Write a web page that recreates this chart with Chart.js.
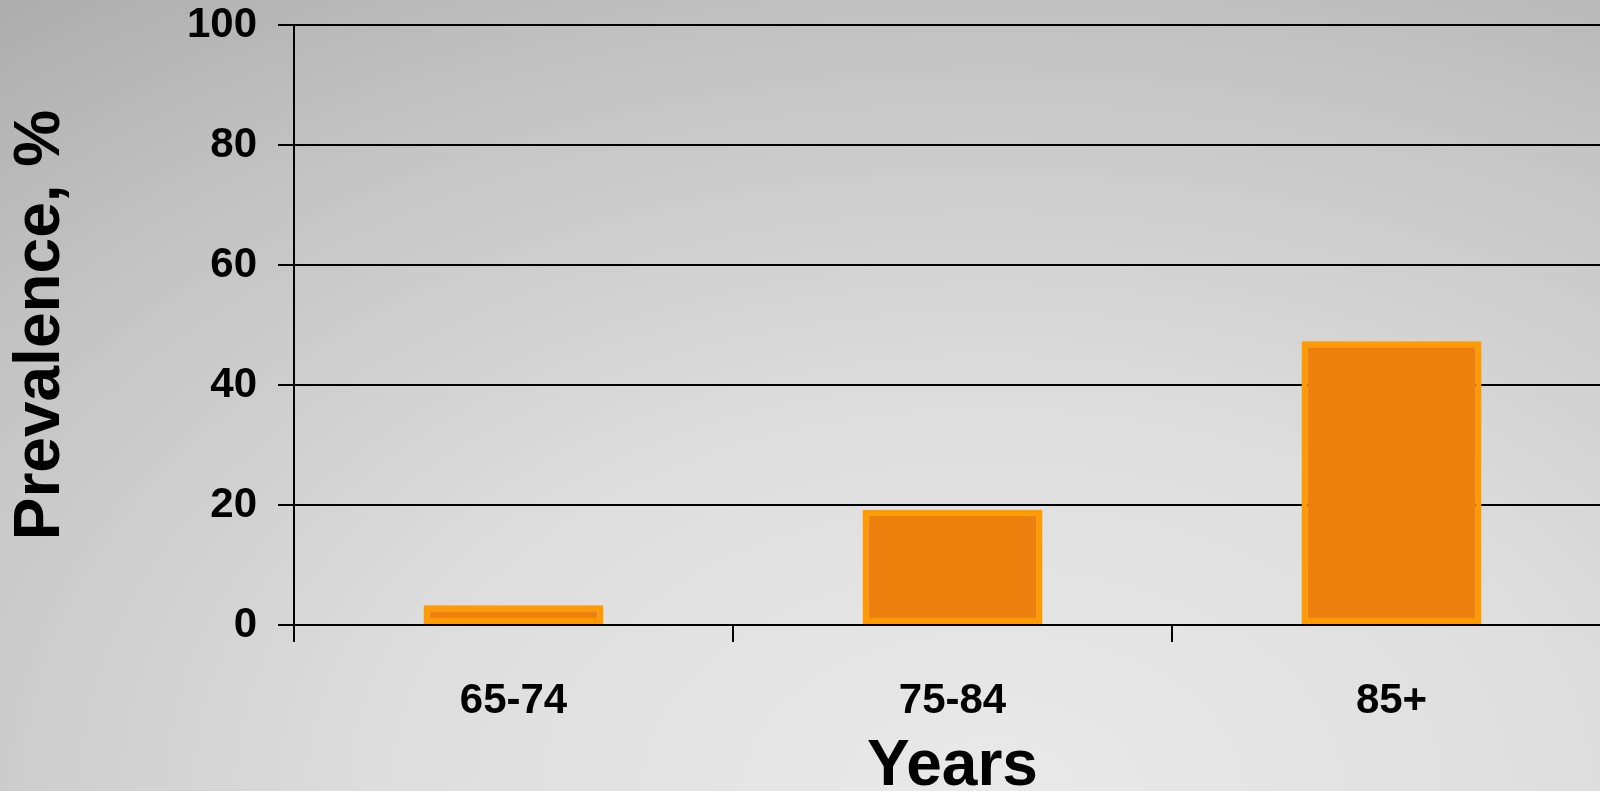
<!DOCTYPE html>
<html>
<head>
<meta charset="utf-8">
<script src="https://cdn.jsdelivr.net/npm/chart.js@4/dist/chart.umd.min.js"></script>
<style>
  html, body { margin: 0; padding: 0; width: 1600px; height: 791px; overflow: hidden; }
  body { background: radial-gradient(ellipse 105% 135% at 62% 100%, #e9e9e9 0%, #dedede 35%, #c4c4c4 70%, #a8a8a8 100%); }
  #wrap { position: absolute; left: 0; top: 0; width: 1611px; height: 806px; }
</style>
</head>
<body>
<div id="wrap"><canvas id="c" width="1611" height="806"></canvas></div>
<script>
const categories = ["65-74", "75-84", "85+"];
const prevalence = [3.3, 19.2, 47.3];
const yTicks = [0, 20, 40, 60, 80, 100];
const xTitle = "Years";
const yTitle = "Prevalence, %";

const ctx = document.getElementById('c');
new Chart(ctx, {
  type: 'bar',
  data: {
    labels: categories,
    datasets: [{
      data: prevalence,
      backgroundColor: '#EE800E',
      borderColor: '#FF9A00',
      borderWidth: 6,
      borderSkipped: false,
      barPercentage: 0.41,
      categoryPercentage: 1.0
    }]
  },
  options: {
    responsive: false,
    animation: false,
    layout: { padding: 0 },
    plugins: { legend: { display: false }, tooltip: { enabled: false } },
    scales: {
      x: {
        offset: true,
        grid: { offset: true, drawOnChartArea: false, drawTicks: true, tickLength: 17, color: '#000', lineWidth: 2 },
        border: { display: true, color: '#000', width: 2 },
        ticks: { color: '#000', font: { family: 'Liberation Sans, Arial, sans-serif', size: 42, weight: 'bold' }, padding: 34 },
        title: { display: true, text: xTitle, color: '#000', font: { family: 'Liberation Sans, Arial, sans-serif', size: 64, weight: 'bold' }, padding: 0 },
        afterFit: (s) => { s.height = 181; }
      },
      y: {
        min: 0, max: 100,
        afterBuildTicks: (s) => { s.ticks = yTicks.map(v => ({ value: v })); },
        grid: { color: '#000', lineWidth: 2, drawTicks: true, tickLength: 16 },
        border: { display: true, color: '#000', width: 2 },
        ticks: { color: '#000', font: { family: 'Liberation Sans, Arial, sans-serif', size: 42, weight: 'bold' }, padding: 21 },
        title: { display: true, text: yTitle, color: '#000', font: { family: 'Liberation Sans, Arial, sans-serif', size: 64, weight: 'bold' }, padding: 3 },
        afterFit: (s) => { s.width = 294; s.paddingTop = 25; s.paddingBottom = 25; }
      }
    }
  }
});
</script>
</body>
</html>
